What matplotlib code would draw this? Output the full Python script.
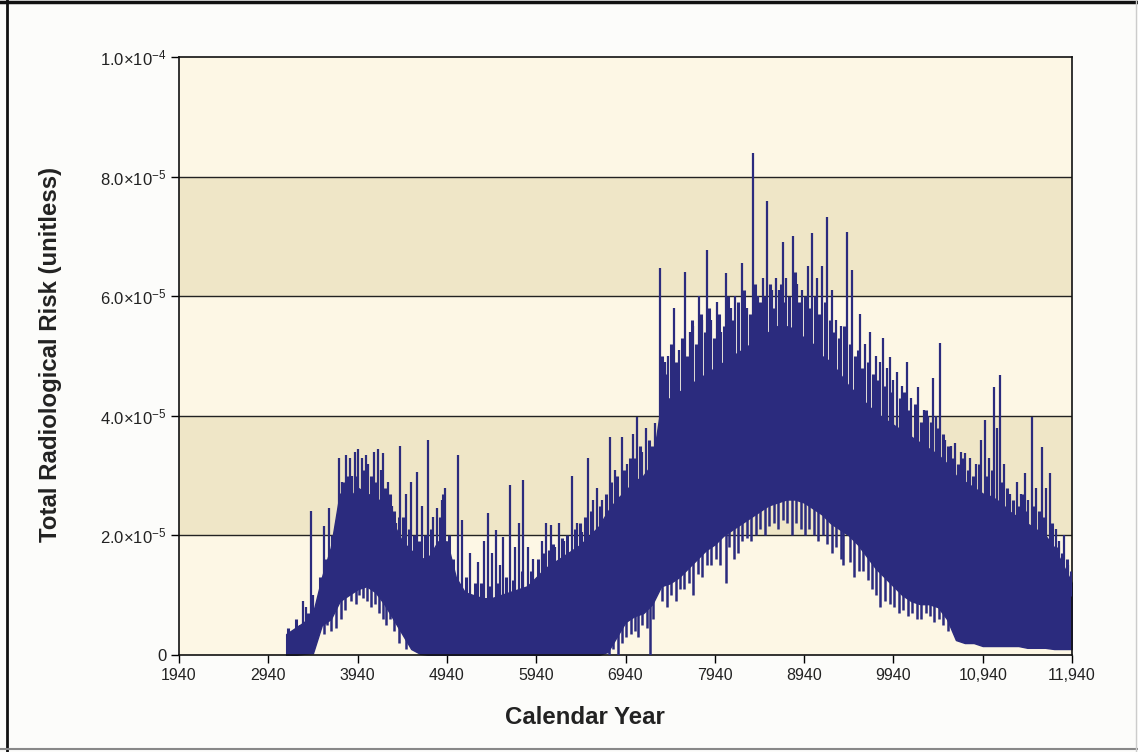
import numpy as np
import matplotlib.pyplot as plt
from matplotlib.lines import Line2D

plt.rcParams['font.family'] = ['Liberation Sans', 'DejaVu Sans']
plt.rcParams['mathtext.default'] = 'regular'

# values, in units of 1e-5
years = np.arange(3140, 11941, 100)
band_low = np.array([
    0.0, 0.0, 0.02, 0.03, 0.5, 0.6, 0.9, 1.0, 1.1, 1.15,
    1.05, 0.85, 0.6, 0.35, 0.1, 0.02, 0.0, 0.0, 0.0, 0.0,
    0.0, 0.0, 0.0, 0.0, 0.0, 0.0, 0.0, 0.0, 0.0, 0.0,
    0.0, 0.0, 0.0, 0.0, 0.0, 0.0, 0.05, 0.3, 0.55, 0.65,
    0.7, 0.85, 1.15, 1.2, 1.3, 1.45, 1.6, 1.75, 1.85, 2.0,
    2.1, 2.2, 2.3, 2.4, 2.5, 2.55, 2.6, 2.6, 2.55, 2.45,
    2.35, 2.2, 2.1, 2.0, 1.85, 1.65, 1.45, 1.3, 1.15, 1.0,
    0.9, 0.85, 0.85, 0.8, 0.6, 0.25, 0.2, 0.2, 0.15, 0.15,
    0.15, 0.15, 0.15, 0.12, 0.12, 0.12, 0.1, 0.1, 0.1])
band_high = np.array([
    0.35, 0.45, 0.55, 0.7, 1.3, 1.8, 2.7, 2.6, 2.8, 2.7,
    2.65, 2.5, 2.2, 1.9, 1.75, 1.6, 1.65, 1.9, 1.9, 1.3,
    1.05, 1.0, 0.95, 0.95, 1.0, 1.05, 1.1, 1.15, 1.3, 1.45,
    1.55, 1.65, 1.75, 1.85, 2.0, 2.15, 2.4, 2.6, 2.75, 2.9,
    3.0, 3.2, 4.2, 4.3, 4.4, 4.5, 4.6, 4.7, 4.8, 4.9,
    5.0, 5.1, 5.2, 5.3, 5.4, 5.5, 5.5, 5.45, 5.3, 5.2,
    5.0, 4.9, 4.7, 4.5, 4.35, 4.2, 4.05, 3.95, 3.85, 3.75,
    3.65, 3.55, 3.45, 3.35, 3.2, 3.0, 2.9, 2.8, 2.7, 2.65,
    2.55, 2.4, 2.3, 2.2, 2.1, 2.0, 1.8, 1.5, 1.2])

# tall spikes above the band: (year, value)
peak_years = np.array([
    3300, 3330, 3360, 3418, 3440, 3560, 3620, 3680, 3730, 3760,
    3810, 3850, 3880, 3910, 3950, 3990, 4030, 4060, 4120, 4170,
    4200, 4230, 4280, 4330, 4370, 4415, 4480, 4540, 4605, 4660,
    4730, 4780, 4830, 4880, 4920, 5065, 5110, 5200, 5290, 5350,
    5400, 5450, 5490, 5530, 5570, 5645, 5700, 5750, 5795, 5850,
    5900, 6000, 6050, 6105, 6150, 6195, 6250, 6340, 6400, 6455,
    6520, 6580, 6620, 6680, 6765, 6820, 6900, 6960, 7020, 7070,
    7130, 7170, 7270, 7326, 7380, 7420, 7480, 7540, 7607, 7660,
    7700, 7760, 7800, 7850, 7900, 7960, 8010, 8065, 8120, 8170,
    8245, 8300, 8370, 8420, 8480, 8525, 8580, 8620, 8660, 8700,
    8740, 8815, 8860, 8920, 8980, 9030, 9080, 9140, 9200, 9250,
    9300, 9350, 9420, 9480, 9565, 9620, 9680, 9740, 9790, 9825,
    9870, 9900, 9940, 9980, 10040, 10090, 10140, 10215, 10280, 10330,
    10385, 10420, 10460, 10520, 10580, 10630, 10700, 10740, 10800, 10870,
    10920, 10965, 11010, 11065, 11100, 11135, 11180, 11250, 11320, 11370,
    11410, 11450, 11490, 11540, 11605, 11650, 11690, 11760, 11800, 11850,
    11900])
peak_vals = np.array([
    0.5, 0.9, 0.8, 2.4, 1.0, 2.15, 2.45, 1.9, 3.3, 2.9,
    3.35, 3.3, 3.0, 3.4, 3.45, 3.3, 3.35, 3.2, 3.4, 3.45,
    3.1, 3.38, 2.9, 2.5, 2.2, 3.5, 2.7, 2.9, 3.06, 2.5,
    3.6, 2.3, 2.45, 2.6, 2.8, 3.34, 2.25, 1.7, 1.55, 1.9,
    2.37, 1.7, 2.09, 1.5, 1.97, 2.84, 1.8, 2.2, 2.93, 1.8,
    1.6, 1.9, 2.2, 2.17, 1.8, 2.2, 1.9, 3.0, 2.2, 2.05,
    3.3, 2.6, 2.8, 2.6, 3.65, 3.1, 3.65, 3.2, 3.7, 3.98,
    3.4, 3.8, 3.88, 6.47, 4.9, 5.0, 5.8, 5.1, 6.4, 5.4,
    5.5, 6.0, 5.6, 6.77, 5.6, 5.9, 5.4, 6.38, 5.8, 6.0,
    6.55, 5.8, 8.39, 6.0, 6.3, 7.6, 6.1, 6.3, 6.1, 6.9,
    6.3, 7.0, 6.2, 6.1, 6.5, 7.05, 6.3, 6.5, 7.33, 6.1,
    5.6, 5.5, 7.07, 6.44, 5.7, 5.2, 5.4, 5.0, 4.9, 5.3,
    4.8, 4.98, 4.6, 4.73, 4.5, 4.9, 4.3, 4.48, 4.1, 4.0,
    4.63, 4.0, 5.22, 3.6, 3.5, 3.54, 3.4, 3.38, 3.3, 3.2,
    3.6, 3.93, 3.3, 4.48, 3.8, 4.68, 3.2, 2.7, 2.9, 2.7,
    3.04, 2.6, 3.98, 2.8, 3.48, 2.8, 3.04, 2.1, 1.9, 2.0,
    1.5])

# short ragged strokes along the top of the band
fringe_years = np.array([
    3160, 3200, 3250, 3390, 3470, 3520, 3590, 3650, 3700, 3780,
    3830, 3930, 4010, 4090, 4150, 4250, 4300, 4350, 4400, 4450,
    4510, 4570, 4630, 4690, 4760, 4860, 4900, 4960, 5010, 5150,
    5250, 5320, 5420, 5510, 5600, 5680, 5780, 5880, 5960, 6020,
    6080, 6130, 6230, 6290, 6380, 6430, 6490, 6550, 6650, 6720,
    6780, 6850, 6920, 6990, 7050, 7100, 7200, 7240,
    7350, 7395, 7450, 7510, 7570, 7630, 7680, 7730, 7780, 7830,
    7880, 7930, 7990, 8040, 8090, 8140, 8195, 8270, 8330, 8395,
    8450, 8500, 8560, 8600, 8680, 8720, 8770, 8840, 8880, 8950,
    9000, 9060, 9110, 9170, 9230, 9280, 9330, 9390, 9450, 9510,
    9540, 9590, 9650, 9710, 9760, 9850, 9920, 10010, 10060, 10120,
    10180, 10250, 10300, 10360, 10440, 10490, 10550, 10610, 10660, 10720,
    10780, 10830, 10900, 10990, 11040, 11160, 11210, 11280, 11340, 11390,
    11430, 11520, 11570, 11630, 11720, 11780, 11830, 11880, 11930])
fringe_vals = np.array([
    0.45, 0.4, 0.6, 0.7, 0.8, 1.3, 1.6, 2.0, 2.2, 2.9,
    3.0, 3.0, 3.1, 3.0, 2.9, 2.8, 2.7, 2.4, 2.3, 2.3,
    2.1, 2.0, 1.9, 2.0, 2.1, 2.3, 2.7, 2.0, 1.6, 1.3,
    1.2, 1.2, 1.15, 1.2, 1.3, 1.25, 1.4, 1.4, 1.6, 1.7,
    1.75, 1.85, 1.95, 2.0, 2.1, 2.2, 2.3, 2.4, 2.5, 2.7,
    2.9, 3.0, 3.1, 3.3, 3.3, 3.5, 3.6, 3.5,
    5.0, 4.7, 5.2, 4.9, 5.3, 5.0, 5.6, 5.2, 5.7, 5.4,
    5.8, 5.3, 5.7, 5.5, 6.0, 5.6, 5.9, 6.1, 5.7, 6.2,
    5.9, 6.0, 6.2, 5.8, 6.2, 5.9, 6.0, 6.4, 5.9, 6.0,
    5.8, 6.0, 5.7, 5.9, 5.6, 5.4, 5.3, 5.5, 5.2, 5.0,
    5.1, 4.8, 4.9, 4.7, 4.6, 4.5, 4.4, 4.3, 4.4, 4.1,
    4.2, 3.9, 4.1, 3.9, 3.8, 3.7, 3.5, 3.3, 3.2, 3.3,
    3.1, 3.0, 3.2, 3.0, 3.1, 2.9, 2.8, 2.6, 2.5, 2.7,
    2.4, 2.5, 2.4, 2.3, 2.2, 1.8, 1.7, 1.6, 1.4])

# strokes dipping below the band: (year, bottom value)
dip_years = np.array([
    3560, 3600, 3640, 3700, 3750, 3800, 3870, 3920, 3960, 4000,
    4050, 4090, 4130, 4180, 4220, 4260, 4300, 4350, 4400, 4480,
    6760, 6800, 6860, 6900, 6950, 7000, 7050, 7080, 7120, 7180,
    7215, 7250, 7350, 7400, 7450, 7500, 7550, 7600, 7650, 7700,
    7750, 7800, 7850, 7900, 7950, 8000, 8060, 8100, 8150, 8200,
    8250, 8300, 8350, 8400, 8450, 8500, 8550, 8600, 8650, 8700,
    8750, 8800, 8850, 8900, 8950, 9000, 9050, 9100, 9150, 9200,
    9250, 9300, 9350, 9380, 9450, 9500, 9550, 9600, 9650, 9700,
    9750, 9790, 9850, 9900, 9950, 10000, 10050, 10100, 10150, 10200,
    10250, 10300, 10350, 10400, 10450, 10500, 10550])
dip_vals = np.array([
    0.35, 0.5, 0.4, 0.45, 0.6, 0.75, 0.9, 0.85, 1.0, 0.95,
    0.9, 0.8, 0.85, 0.7, 0.6, 0.5, 0.6, 0.4, 0.2, 0.1,
    0.0, 0.1, 0.0, 0.2, 0.3, 0.35, 0.4, 0.3, 0.5, 0.45,
    0.0, 0.6, 0.9, 0.8, 1.0, 0.9, 1.1, 1.1, 1.2, 1.0,
    1.35, 1.3, 1.5, 1.5, 1.6, 1.5, 1.2, 1.8, 1.6, 1.7,
    1.9, 1.95, 1.9, 2.0, 2.1, 2.0, 2.15, 2.2, 2.1, 2.25,
    2.2, 2.0, 2.2, 2.1, 2.0, 2.1, 2.0, 1.9, 2.0, 1.85,
    1.7, 1.8, 1.6, 1.5, 1.55, 1.3, 1.4, 1.4, 1.25, 1.1,
    1.0, 0.8, 0.9, 0.85, 0.8, 0.7, 0.75, 0.65, 0.7, 0.6,
    0.6, 0.7, 0.65, 0.55, 0.6, 0.5, 0.4])

x_ticks = np.arange(1940, 11941, 1000)
x_labels = ['1940', '2940', '3940', '4940', '5940', '6940', '7940',
            '8940', '9940', '10,940', '11,940']
y_ticks = [0, 2e-5, 4e-5, 6e-5, 8e-5, 1e-4]
y_labels = ['0', r'$2.0{\times}10^{-5}$', r'$4.0{\times}10^{-5}$',
            r'$6.0{\times}10^{-5}$', r'$8.0{\times}10^{-5}$', r'$1.0{\times}10^{-4}$']

navy = '#2B2B7E'
light = '#FDF7E5'
tan = '#EFE6C7'

fig = plt.figure(figsize=(11.38, 7.52), dpi=100, facecolor='#FCFCFA')
ax = fig.add_axes([179 / 1138, 1 - 655 / 752, (1072 - 179) / 1138, (655 - 57) / 752])

for i in range(5):
    ax.axhspan(i * 2e-5, (i + 1) * 2e-5, color=tan if i % 2 else light, lw=0, zorder=0)
for v in y_ticks[1:-1]:
    ax.axhline(v, color='#222222', lw=1.0, zorder=1)

s = 1e-5
ax.fill_between(years, band_low * s, band_high * s, color=navy, lw=1.0, zorder=2)
# strokes start inside the band so the white hollows stay open
peak_base = np.interp(peak_years, years, band_high) * 0.8
fringe_base = np.interp(fringe_years, years, band_high) * 0.8
dip_top = np.interp(dip_years, years, band_low) + 0.2
ax.vlines(peak_years, np.minimum(peak_base, peak_vals) * s, peak_vals * s,
          color=navy, lw=1.6, zorder=3)
ax.vlines(fringe_years, np.minimum(fringe_base, fringe_vals) * s, fringe_vals * s,
          color=navy, lw=2.2, zorder=3)
ax.vlines(dip_years, dip_vals * s, dip_top * s, color=navy, lw=1.8, zorder=3)

ax.set_xlim(1940, 11940)
ax.set_ylim(0, 1e-4)
ax.set_xticks(x_ticks, x_labels, fontsize=11.5, color='#222222')
ax.set_yticks(y_ticks, y_labels, fontsize=12, color='#222222')
ax.tick_params(direction='out', length=6, width=1, pad=3)
for sp in ax.spines.values():
    sp.set_linewidth(1.2)
    sp.set_color('#111111')

ax.set_xlabel('Calendar Year', fontsize=17.3, fontweight='bold', color='#222222')
ax.xaxis.set_label_coords((585 - 179) / (1072 - 179), -(718 - 655) / (655 - 57))
ax.set_ylabel('Total Radiological Risk (unitless)', fontsize=17.3, fontweight='bold',
              color='#222222')
ax.yaxis.set_label_coords(-(179 - 51) / (1072 - 179), (655 - 354) / (655 - 57))
ax.xaxis.label.set_va('center')
ax.yaxis.label.set_va('center')

# outer frame of the picture
fig.add_artist(Line2D([0, 1], [0.997, 0.997], color='#111111', lw=2.5))
fig.add_artist(Line2D([0.0065, 0.0065], [0, 1], color='#111111', lw=2))
fig.add_artist(Line2D([0, 1], [0.004, 0.004], color='#888888', lw=1.5))
fig.add_artist(Line2D([0.998, 0.998], [0, 1], color='#cccccc', lw=1))

fig.savefig('out.png', dpi=100, facecolor=fig.get_facecolor())
